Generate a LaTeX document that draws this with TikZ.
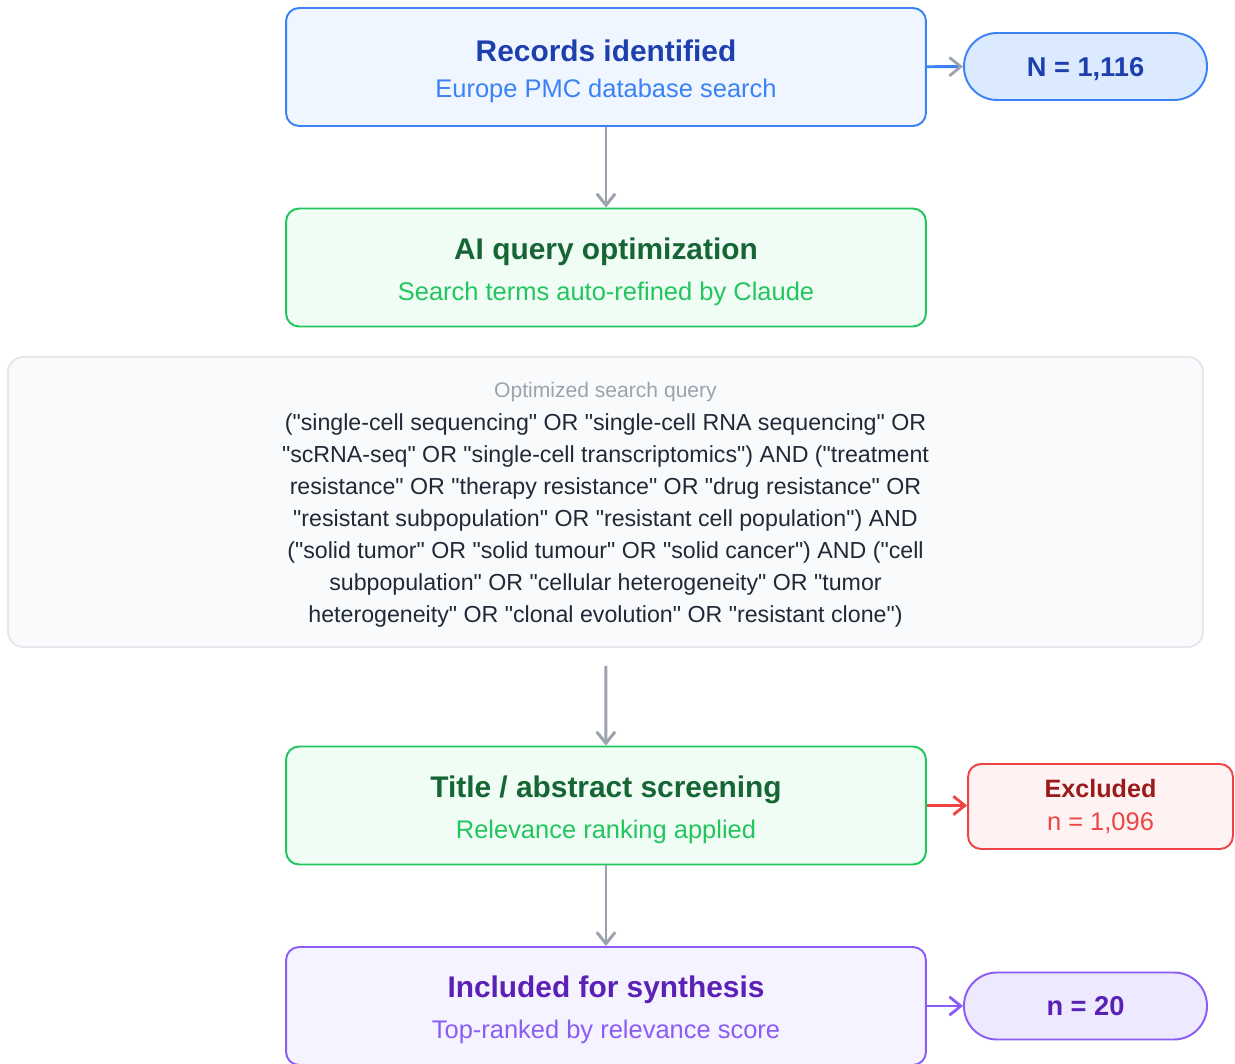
\documentclass[tikz,border=0pt]{standalone}
\usepackage{fontspec}
\setmainfont{Liberation Sans}[Ligatures=TeXOff]
\usetikzlibrary{arrows.meta}

\definecolor{bluefill}{HTML}{EFF6FF}
\definecolor{blueline}{HTML}{3B82F6}
\definecolor{bluedark}{HTML}{1E40AF}
\definecolor{bluepill}{HTML}{DBEAFE}
\definecolor{greenfill}{HTML}{F0FDF4}
\definecolor{greenline}{HTML}{22C55E}
\definecolor{greendark}{HTML}{166534}
\definecolor{grayfill}{HTML}{F9FAFB}
\definecolor{grayline}{HTML}{E5E7EB}
\definecolor{graylabel}{HTML}{9CA3AF}
\definecolor{graytext}{HTML}{1F2937}
\definecolor{arrowgray}{HTML}{9CA3AF}
\definecolor{redfill}{HTML}{FEF2F2}
\definecolor{redline}{HTML}{EF4444}
\definecolor{reddark}{HTML}{991B1B}
\definecolor{purplefill}{HTML}{F5F3FF}
\definecolor{purpleline}{HTML}{8B5CF6}
\definecolor{purpledark}{HTML}{5B21B6}
\definecolor{purplepill}{HTML}{EDE9FE}

\newcommand{\headfont}{\fontsize{17pt}{20pt}\selectfont\bfseries\rule{0pt}{17pt}}
\newcommand{\subfont}{\fontsize{14.5pt}{18pt}\selectfont}

\tikzset{
  stage/.style={draw, rounded corners=0.26cm, line width=1.1pt, minimum width=12.8cm, minimum height=2.36cm, align=center, inner sep=0pt},
  pill/.style={draw, rounded corners=0.66cm, line width=1.1pt, minimum width=4.86cm, minimum height=1.34cm, inner sep=0pt, text depth=0pt, font=\fontsize{15.5pt}{18pt}\selectfont\bfseries},
  flow/.style={->, line width=1.7pt, draw=arrowgray},
  side/.style={->, line width=1.6pt}
}

\begin{document}
\begin{tikzpicture}[x=0.02cm, y=-0.02cm, >={Straight Barb[length=6.5pt,width=10.5pt]}]
  \useasboundingbox (0,0) rectangle (1235,1064);
  % Nodes
  \node[stage, fill=bluefill, draw=blueline] (records) at (606,67)
    {{\headfont\color{bluedark}Records identified}\\[8.5pt]{\subfont\color{blueline}Europe PMC database search}};
  \node[pill, fill=bluepill, draw=blueline, text=bluedark] (total) at (1085.5,66.5) {N = 1,116};
  \node[stage, fill=greenfill, draw=greenline] (aiquery) at (606,267.5)
    {{\headfont\color{greendark}AI query optimization}\\[8.5pt]{\subfont\color{greenline}Search terms auto-refined by Claude}};
  \node[draw=grayline, fill=grayfill, rounded corners=0.3cm, line width=1.1pt, minimum width=23.9cm, minimum height=5.8cm, align=center, inner sep=0pt, text=graytext, font=\fontsize{13.2pt}{18.2pt}\selectfont] (query) at (605.5,502)
    {{\fontsize{12pt}{14pt}\selectfont\color{graylabel}\rule{0pt}{12.2pt}Optimized search query}\\[0.5pt]
     ("single-cell sequencing" OR "single-cell RNA sequencing" OR\\
     "scRNA-seq" OR "single-cell transcriptomics") AND ("treatment\\
     resistance" OR "therapy resistance" OR "drug resistance" OR\\
     "resistant subpopulation" OR "resistant cell population") AND\\
     ("solid tumor" OR "solid tumour" OR "solid cancer") AND ("cell\\
     subpopulation" OR "cellular heterogeneity" OR "tumor\\
     heterogeneity" OR "clonal evolution" OR "resistant clone")};
  \node[stage, fill=greenfill, draw=greenline] (screening) at (606,805.5)
    {{\headfont\color{greendark}Title / abstract screening}\\[8.5pt]{\subfont\color{greenline}Relevance ranking applied}};
  \node[draw=redline, fill=redfill, rounded corners=0.26cm, line width=1.1pt, minimum width=5.3cm, minimum height=1.7cm, align=center, inner sep=0pt] (excluded) at (1100.5,806.5)
    {{\fontsize{14.3pt}{17pt}\selectfont\bfseries\color{reddark}Excluded}\\[7pt]{\fontsize{14.5pt}{17pt}\selectfont\color{redline}n = 1,096}};
  \node[stage, fill=purplefill, draw=purpleline] (included) at (606,1006)
    {{\headfont\color{purpledark}Included for synthesis}\\[8.5pt]{\subfont\color{purpleline}Top-ranked by relevance score}};
  \node[pill, fill=purplepill, draw=purpleline, text=purpledark] (final) at (1085.5,1006) {n = 20};
  % Arrows
  \draw[flow] (records) -- (aiquery);
  \draw[flow, shorten <=0.36cm] (query) -- (screening);
  \draw[flow] (screening) -- (included);
  \draw[side, draw=blueline, -{Straight Barb[length=6.5pt,width=10.5pt,color=arrowgray]}] (records) -- (total);
  \draw[side, draw=redline] (screening) -- (excluded.west |- screening);
  \draw[side, draw=purpleline] (included) -- (final);
\end{tikzpicture}
\end{document}
